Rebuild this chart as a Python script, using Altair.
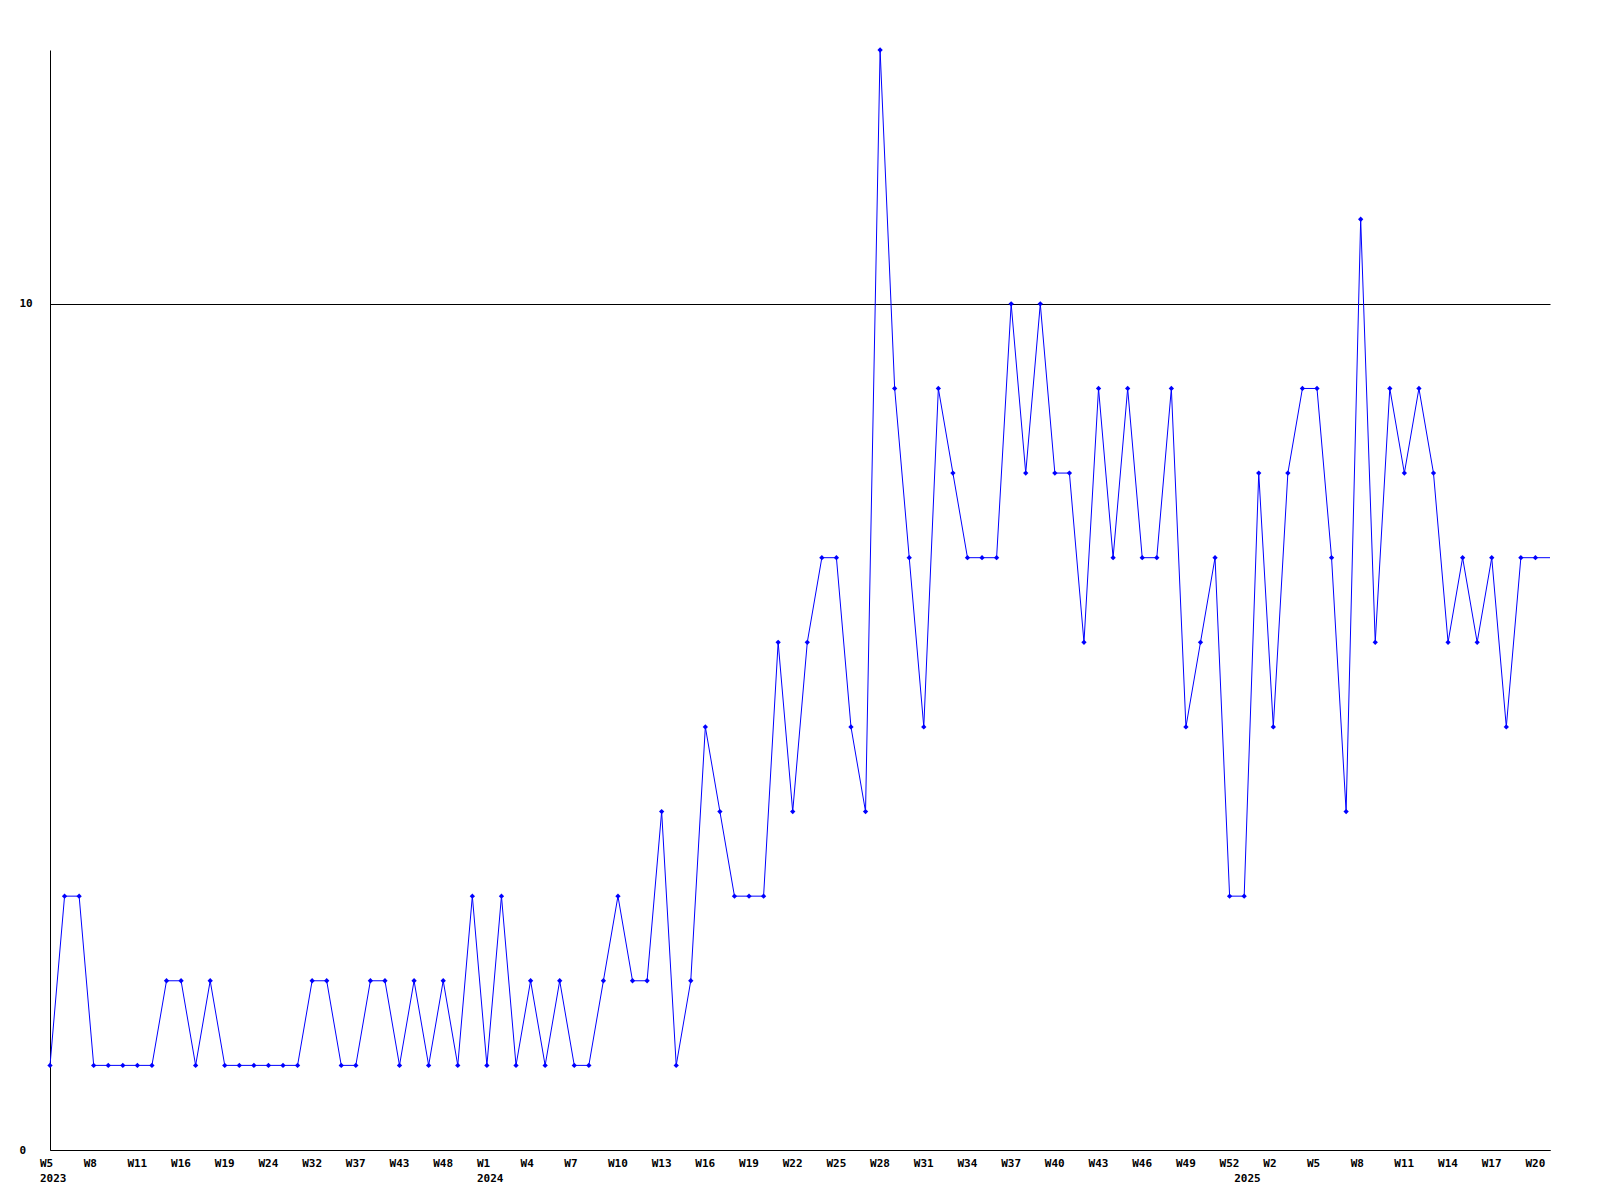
import json
import altair as alt
import pandas as pd

# ---- data ----
weeks_2023 = [5, 6, 7, 8, 9, 10, 11, 13, 14, 16, 17, 18, 19, 21, 22, 24, 27, 29,
              32, 34, 35, 37, 39, 41, 43, 45, 46, 48, 50, 51]
weeks_2024 = list(range(1, 53))
weeks_2025 = list(range(0, 22))

values_2023 = [1, 3, 3, 1, 1, 1, 1, 1, 2, 2, 1, 2, 1, 1, 1, 1, 1, 1, 2, 2, 1, 1,
               2, 2, 1, 2, 1, 2, 1, 3]
values_2024 = [1, 3, 1, 2, 1, 2, 1, 1, 2, 3, 2, 2, 4, 1, 2, 5, 4, 3, 3, 3, 6, 4,
               6, 7, 7, 5, 4, 13, 9, 7, 5, 9, 8, 7, 7, 7, 10, 8, 10, 8, 8, 6,
               9, 7, 9, 7, 7, 9, 5, 6, 7, 3]
values_2025 = [3, 8, 5, 8, 9, 9, 7, 4, 11, 6, 9, 8, 9, 8, 6, 7, 6, 7, 5, 7, 7, 7]

y_ticks = [0, 10]

# ---- build table ----
years = [2023] * len(weeks_2023) + [2024] * len(weeks_2024) + [2025] * len(weeks_2025)
weeks = weeks_2023 + weeks_2024 + weeks_2025
values = values_2023 + values_2024 + values_2025
n = len(values)
df = pd.DataFrame({"idx": list(range(n)), "week": weeks, "year": years, "value": values})

labels = []
label_idx = []
for i in range(n):
    wk = f"W{weeks[i]}" if i % 3 == 0 else ""
    yr = str(years[i]) if (i == 0 or years[i] != years[i - 1]) else ""
    if yr:
        labels.append([wk, yr])
    else:
        labels.append([wk])
    if wk or yr:
        label_idx.append(i)

label_expr = json.dumps(labels) + "[datum.value]"

FONT = "DejaVu Sans Mono"

x_enc = alt.X(
    "idx:Q",
    scale=alt.Scale(domain=[0, n - 1], nice=False, zero=False),
    axis=alt.Axis(
        values=label_idx,
        labelExpr=label_expr,
        title=None,
        grid=False,
        ticks=False,
        tickSize=0,
        domainColor="black",
        domainWidth=1,
        labelAlign="left",
        labelOffset=-10.5,
        labelBaseline="top",
        labelPadding=7,
        labelLineHeight=15,
        labelOverlap=False,
        labelFlush=False,
        labelBound=False,
        labelFont=FONT,
        labelFontWeight="bold",
        labelFontSize=11,
        labelColor="black",
    ),
)
y_enc = alt.Y(
    "value:Q",
    scale=alt.Scale(domain=[0, 13], nice=False),
    axis=alt.Axis(
        values=y_ticks,
        format="d",
        title=None,
        grid=True,
        gridColor="black",
        gridOpacity=1,
        gridWidth=1,
        ticks=False,
        tickSize=0,
        domainColor="black",
        domainWidth=1,
        labelAlign="left",
        labelPadding=31,
        labelBaseline="middle",
        labelFont=FONT,
        labelFontWeight="bold",
        labelFontSize=11,
        labelColor="black",
    ),
)

line = alt.Chart(df).mark_line(color="#0000ff", strokeWidth=1).encode(x=x_enc, y=y_enc)
pts = (
    alt.Chart(df)
    .transform_filter(f"datum.idx < {n - 1}")
    .mark_point(shape="diamond", filled=True, color="#0000ff", size=28, opacity=1)
    .encode(x="idx:Q", y="value:Q")
)

chart = (
    alt.layer(line, pts)
    .properties(
        width=1500,
        height=1100,
        autosize=alt.AutoSizeParams(type="none"),
        padding={"left": 42, "top": 42, "right": 40, "bottom": 40},
        background="white",
    )
    .configure_view(stroke=None)
)

chart.save("out.html", embed_options={"renderer": "svg", "actions": False})
